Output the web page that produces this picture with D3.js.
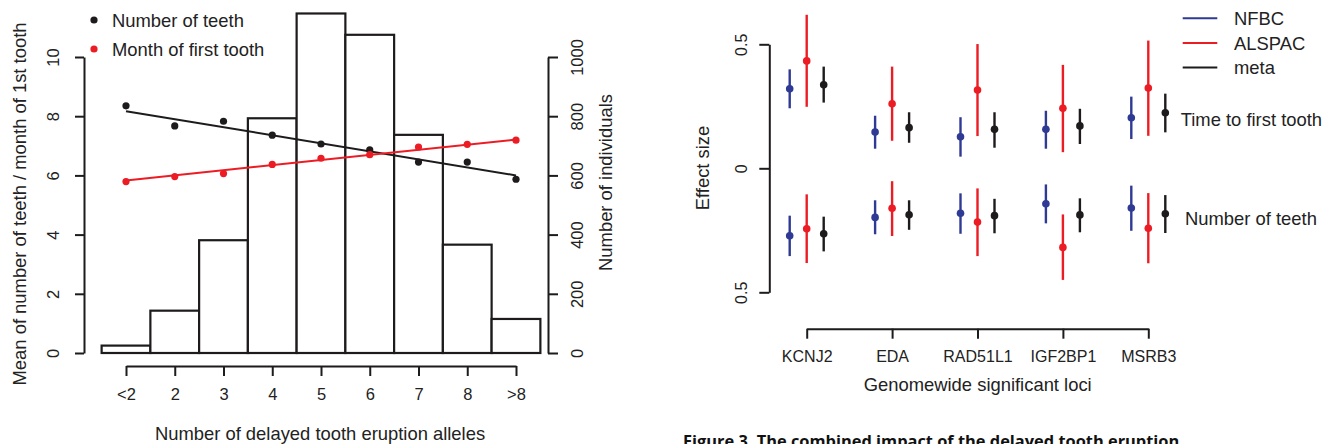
<!DOCTYPE html>
<html lang="en">
<head>
<meta charset="UTF-8">
<script src="https://cdn.jsdelivr.net/npm/d3@7/dist/d3.min.js"></script>
<title>Delayed tooth eruption</title>
<style>
  body { margin: 0; background: #fff; }
  svg { font-family: "Liberation Sans", Arial, sans-serif; }
</style>
</head>
<body>
<svg id="mainsvg" width="1330" height="444"></svg>
<script>
// ---- left panel data ----
const alleleCats = ['<2', '2', '3', '4', '5', '6', '7', '8', '>8']
const individuals = [25, 143, 381, 793, 1147, 1075, 737, 366, 115]
const meanTeeth = [8.35, 7.67, 7.83, 7.36, 7.06, 6.86, 6.45, 6.45, 5.87]
const monthFirstTooth = [5.79, 5.96, 6.06, 6.37, 6.58, 6.70, 6.96, 7.05, 7.19]
const teethFit = [8.17, 6.00]   // fitted line at first / last category
const monthFit = [5.83, 7.21]
const meanTicks = [0, 2, 4, 6, 8, 10]
const countTicks = [0, 200, 400, 600, 800, 1000]

// ---- right panel data: [estimate, lower, upper] per locus ----
const loci = ['KCNJ2', 'EDA', 'RAD51L1', 'IGF2BP1', 'MSRB3']
const studies = ['NFBC', 'ALSPAC', 'meta']
const nfbcTime = [[0.321, 0.242, 0.399], [0.146, 0.079, 0.212], [0.127, 0.047, 0.206], [0.157, 0.079, 0.232], [0.204, 0.118, 0.289]]
const alspacTime = [[0.433, 0.248, 0.619], [0.26, 0.111, 0.41], [0.316, 0.13, 0.501], [0.242, 0.065, 0.417], [0.324, 0.131, 0.515]]
const metaTime = [[0.337, 0.265, 0.41], [0.164, 0.103, 0.226], [0.157, 0.083, 0.226], [0.171, 0.098, 0.24], [0.224, 0.145, 0.301]]
const nfbcTeeth = [[-0.272, -0.354, -0.191], [-0.198, -0.266, -0.129], [-0.181, -0.264, -0.101], [-0.143, -0.222, -0.065], [-0.16, -0.252, -0.07]]
const alspacTeeth = [[-0.244, -0.382, -0.105], [-0.161, -0.273, -0.052], [-0.217, -0.354, -0.081], [-0.319, -0.45, -0.186], [-0.242, -0.383, -0.1]]
const metaTeeth = [[-0.264, -0.335, -0.195], [-0.187, -0.248, -0.129], [-0.191, -0.262, -0.123], [-0.188, -0.258, -0.121], [-0.183, -0.261, -0.108]]
const effectTicks = [-0.5, 0, 0.5]

const BLACK = '#1d1b1c', RED = '#ec1c24', BLUE = '#2e3a94'
const svg = d3.select('#mainsvg')

// ================= left panel =================
const xScale = d3.scalePoint().domain(alleleCats).range([126, 516])
const step = xScale.step()
const yMean = d3.scaleLinear().domain([0, 10]).range([353, 57])
const yCount = d3.scaleLinear().domain([0, 1000]).range([353, 57])

const left = svg.append('g')

// histogram
left.selectAll('rect.bar').data(individuals).join('rect')
  .attr('class', 'bar')
  .attr('x', (d, i) => xScale(alleleCats[i]) - step / 2)
  .attr('width', step)
  .attr('y', d => yCount(d))
  .attr('height', d => yCount(0) - yCount(d))
  .attr('fill', 'white')
  .attr('stroke', BLACK)
  .attr('stroke-width', 2.2)

function rAxis(g) {
  g.select('.domain').attr('stroke', BLACK).attr('stroke-width', 2)
  g.selectAll('.tick line').attr('stroke', BLACK).attr('stroke-width', 2)
  g.selectAll('.tick text').attr('fill', '#222')
}

// left y axis
const gyl = left.append('g').attr('transform', 'translate(84,0)')
  .call(d3.axisLeft(yMean).tickValues(meanTicks).tickSize(9).tickSizeOuter(0))
rAxis(gyl)
gyl.selectAll('.tick text')
  .attr('transform', 'rotate(-90)').attr('x', 0).attr('y', -31).attr('dy', '0.35em')
  .attr('text-anchor', 'middle').attr('font-size', 16.5)

// right y axis
const gyr = left.append('g').attr('transform', 'translate(548,0)')
  .call(d3.axisRight(yCount).tickValues(countTicks).tickFormat(d3.format('d'))
    .tickSize(10).tickSizeOuter(0))
rAxis(gyr)
gyr.selectAll('.tick text')
  .attr('transform', 'rotate(-90)').attr('x', 0).attr('y', 29).attr('dy', '0.35em')
  .attr('text-anchor', 'middle').attr('font-size', 16.5)

// x axis
const gx = left.append('g').attr('transform', 'translate(0,366)')
  .call(d3.axisBottom(xScale).tickSize(10).tickSizeOuter(0))
rAxis(gx)
gx.selectAll('.tick text').attr('y', 22).attr('dy', '0.71em').attr('font-size', 16.5)

// fitted lines
const first = alleleCats[0], last = alleleCats[alleleCats.length - 1]
left.append('line')
  .attr('x1', xScale(first)).attr('x2', xScale(last))
  .attr('y1', yMean(teethFit[0])).attr('y2', yMean(teethFit[1]))
  .attr('stroke', BLACK).attr('stroke-width', 2)
left.append('line')
  .attr('x1', xScale(first)).attr('x2', xScale(last))
  .attr('y1', yMean(monthFit[0])).attr('y2', yMean(monthFit[1]))
  .attr('stroke', RED).attr('stroke-width', 2)

// points
left.selectAll('circle.teeth').data(meanTeeth).join('circle')
  .attr('cx', (d, i) => xScale(alleleCats[i])).attr('cy', d => yMean(d))
  .attr('r', 3.6).attr('fill', BLACK)
left.selectAll('circle.month').data(monthFirstTooth).join('circle')
  .attr('cx', (d, i) => xScale(alleleCats[i])).attr('cy', d => yMean(d))
  .attr('r', 3.6).attr('fill', RED)

// legend
const legL = [['Number of teeth', BLACK, 20], ['Month of first tooth', RED, 49]]
legL.forEach(([label, c, y]) => {
  left.append('circle').attr('cx', 94).attr('cy', y).attr('r', 3.6).attr('fill', c)
  left.append('text').text(label).attr('x', 112).attr('y', y + 6.6)
    .attr('font-size', 18.4).attr('fill', '#222')
})

// axis titles
left.append('text').text('Mean of number of teeth / month of 1st tooth')
  .attr('transform', 'translate(26,204) rotate(-90)')
  .attr('text-anchor', 'middle').attr('font-size', 18.4).attr('fill', '#222')
left.append('text').text('Number of individuals')
  .attr('transform', 'translate(611.5,182.5) rotate(-90)')
  .attr('text-anchor', 'middle').attr('font-size', 18.4).attr('fill', '#222')
left.append('text').text('Number of delayed tooth eruption alleles')
  .attr('x', 320).attr('y', 440)
  .attr('text-anchor', 'middle').attr('font-size', 18.4).attr('fill', '#222')

// ================= right panel =================
const xLoci = d3.scalePoint().domain(loci).range([806.7, 1148.3])
const xStudy = d3.scalePoint().domain(studies).range([-17, 17])
const yEff = d3.scaleLinear().domain([-0.5, 0.5]).range([292.3, 44.3])
const colour = d3.scaleOrdinal().domain(studies).range([BLUE, RED, BLACK])

const right = svg.append('g')

const gyE = right.append('g').attr('transform', 'translate(769.3,0)')
  .call(d3.axisLeft(yEff).tickValues(effectTicks).tickSize(10).tickSizeOuter(0)
    .tickFormat(d => d3.format('')(Math.abs(d))))
rAxis(gyE)
gyE.selectAll('.tick text')
  .attr('transform', 'rotate(-90)').attr('x', 0).attr('y', -28).attr('dy', '0.35em')
  .attr('text-anchor', 'middle').attr('font-size', 16)

const gxL = right.append('g').attr('transform', 'translate(0,328.7)')
  .call(d3.axisBottom(xLoci).tickSize(10).tickSizeOuter(0))
rAxis(gxL)
gxL.selectAll('.tick text').attr('y', 22).attr('dy', '0.71em').attr('font-size', 16)

const series = [
  ['NFBC', nfbcTime], ['ALSPAC', alspacTime], ['meta', metaTime],
  ['NFBC', nfbcTeeth], ['ALSPAC', alspacTeeth], ['meta', metaTeeth]
]
series.forEach(([study, vals]) => {
  const g = right.append('g')
  g.selectAll('line').data(vals).join('line')
    .attr('x1', (d, i) => xLoci(loci[i]) + xStudy(study))
    .attr('x2', (d, i) => xLoci(loci[i]) + xStudy(study))
    .attr('y1', d => yEff(d[1])).attr('y2', d => yEff(d[2]))
    .attr('stroke', colour(study)).attr('stroke-width', 2.4)
  g.selectAll('circle').data(vals).join('circle')
    .attr('cx', (d, i) => xLoci(loci[i]) + xStudy(study))
    .attr('cy', d => yEff(d[0]))
    .attr('r', 3.8).attr('fill', colour(study))
})

// legend
const legY = d3.scalePoint().domain(studies).range([18.3, 67.5])
studies.forEach(s => {
  right.append('line').attr('x1', 1182.7).attr('x2', 1217.3)
    .attr('y1', legY(s)).attr('y2', legY(s))
    .attr('stroke', colour(s)).attr('stroke-width', 2)
  right.append('text').text(s).attr('x', 1234).attr('y', legY(s) + 6.6)
    .attr('font-size', 18.4).attr('fill', '#222')
})

right.append('text').text('Time to first tooth').attr('x', 1180.7).attr('y', 125.8)
  .attr('font-size', 18.4).attr('fill', '#222')
right.append('text').text('Number of teeth').attr('x', 1185).attr('y', 224.5)
  .attr('font-size', 18.4).attr('fill', '#222')

right.append('text').text('Effect size')
  .attr('transform', 'translate(709,168) rotate(-90)')
  .attr('text-anchor', 'middle').attr('font-size', 18.4).attr('fill', '#222')
right.append('text').text('Genomewide significant loci')
  .attr('x', 977.7).attr('y', 391)
  .attr('text-anchor', 'middle').attr('font-size', 18.4).attr('fill', '#222')

// caption (the reference crops it at the bottom edge)
svg.append('text').text('Figure 3. The combined impact of the delayed tooth eruption')
  .attr('x', 683).attr('y', 447)
  .attr('font-family', '"Open Sans", sans-serif').attr('font-weight', 'bold')
  .attr('font-size', 16.4).attr('fill', '#111')
</script>
</body>
</html>
